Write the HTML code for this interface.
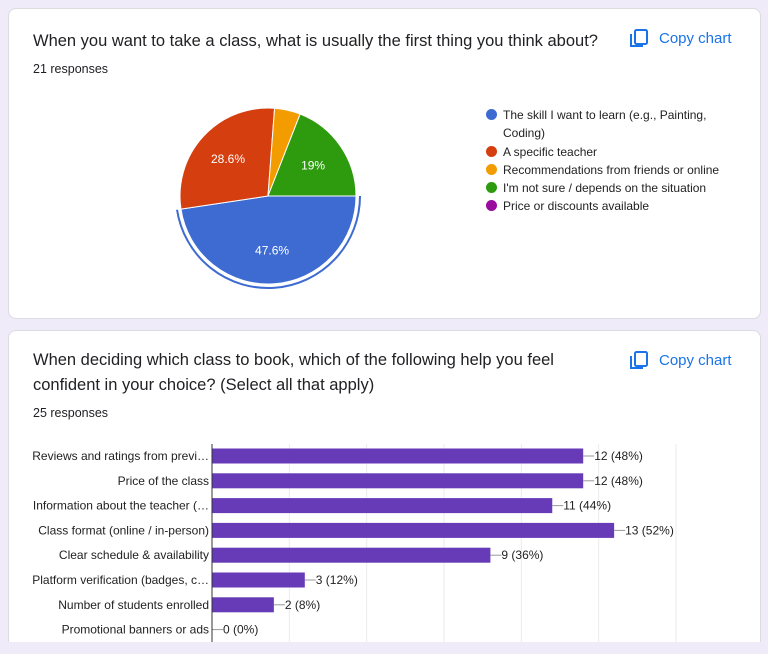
<!DOCTYPE html>
<html style="height:654px;overflow:hidden"><head><meta charset="utf-8"><style>
body{margin:0;width:768px;height:654px;background:#f0ebf8;font-family:"Liberation Sans",Arial,sans-serif;overflow:hidden;position:relative;color:#202124}
.card{position:absolute;left:8px;width:751px;background:#fff;border:1px solid #dadce0;border-radius:8px}
.title{position:absolute;left:24px;font-size:16.5px;line-height:25px;color:#202124}
.resp{position:absolute;left:24px;font-size:12.5px;color:#202124}
.copy{position:absolute;left:620px;font-size:15px;color:#1a73e8;display:flex;align-items:center;gap:10px}
.leg{position:absolute;left:475px;font-size:12px;line-height:18.3px;color:#222}
.leg div{position:relative;padding-left:19px}
.leg span.d{position:absolute;left:2px;top:3px;width:11px;height:11px;border-radius:50%}
</style></head><body>
<div class="card" style="top:8px;height:309px">
 <div class="title" style="top:20px">When you want to take a class, what is usually the first thing you think about?</div>
 <div class="resp" style="top:53px">21 responses</div>
 <div class="copy" style="top:19px"><svg width="20" height="20" viewBox="0 0 20 20"><rect x="6" y="2" width="12" height="14" rx="1.5" fill="none" stroke="#1a73e8" stroke-width="2"/><path d="M2 6v12h12" fill="none" stroke="#1a73e8" stroke-width="2"/></svg>Copy chart</div>
 <div class="leg" style="top:97px">
  <div><span class="d" style="background:#3d6bd1"></span>The skill I want to learn (e.g., Painting,<br>Coding)</div>
  <div><span class="d" style="background:#d53f10"></span>A specific teacher</div>
  <div><span class="d" style="background:#f39c00"></span>Recommendations from friends or online</div>
  <div><span class="d" style="background:#2e9b0f"></span>I'm not sure / depends on the situation</div>
  <div><span class="d" style="background:#980c9e"></span>Price or discounts available</div>
 </div>
</div>
<svg id="pie" width="768" height="330" style="position:absolute;left:0;top:0"></svg>
<div class="card" style="top:330px;height:330px">
 <div class="title" style="top:17px">When deciding which class to book, which of the following help you feel<br>confident in your choice? (Select all that apply)</div>
 <div class="resp" style="top:75px">25 responses</div>
 <div class="copy" style="top:19px"><svg width="20" height="20" viewBox="0 0 20 20"><rect x="6" y="2" width="12" height="14" rx="1.5" fill="none" stroke="#1a73e8" stroke-width="2"/><path d="M2 6v12h12" fill="none" stroke="#1a73e8" stroke-width="2"/></svg>Copy chart</div>
</div>
<svg id="bar" width="768" height="654" style="position:absolute;left:0;top:0"></svg>
<div style="position:absolute;left:0;top:642px;width:768px;height:12px;background:#f0ebf8"></div>
<script>
const pieLabels=["The skill I want to learn","A specific teacher","Recommendations from friends or online","I'm not sure / depends on the situation","Price or discounts available"];
const pieValues=[10,6,1,4,0];
const pieColors=["#3d6bd1","#d53f10","#f39c00","#2e9b0f","#980c9e"];
const NS="http://www.w3.org/2000/svg";
function mk(p,t,a){const e=document.createElementNS(NS,t);for(const k in a)e.setAttribute(k,a[k]);p.appendChild(e);return e;}
(function(){
 const svg=document.getElementById('pie');const cx=268,cy=196,r=88;
 const tot=pieValues.reduce((a,b)=>a+b,0);let a0=0;
 function pt(a,rr){return [cx+rr*Math.cos(a),cy+rr*Math.sin(a)];}
 pieValues.forEach((v,i)=>{if(!v)return;const a1=a0+v/tot*2*Math.PI;
  const p0=pt(a0,r),p1=pt(a1,r),lg=(a1-a0)>Math.PI?1:0;
  const s=mk(svg,'path',{d:`M${cx},${cy}L${p0[0]},${p0[1]}A${r},${r} 0 ${lg} 1 ${p1[0]},${p1[1]}Z`,fill:pieColors[i],stroke:'#fff','stroke-width':1});
  
  
  if(i===0){const q0=pt(a0,r+4),q1=pt(a1,r+4);
   const ring=mk(svg,'path',{d:`M${q0[0]},${q0[1]}A${r+4},${r+4} 0 ${lg} 1 ${q1[0]},${q1[1]}`,fill:'none',stroke:pieColors[0],'stroke-width':2});
   
   }
  const pct=v/tot*100;
  if(pct>8){const m=(a0+a1)/2,l=pt(m,r*0.62);
   const t=mk(svg,'text',{x:l[0],y:l[1]+4,'text-anchor':'middle','font-size':12,fill:'#fff'});
   t.textContent=(Math.round(pct*10)/10)+'%';
   
   }
  a0=a1;});
})();
const barCats=["Reviews and ratings from previ…","Price of the class","Information about the teacher (…","Class format (online / in-person)","Clear schedule & availability","Platform verification (badges, c…","Number of students enrolled","Promotional banners or ads"];
const barValues=[12,12,11,13,9,3,2,0];
const barTotal=25;
const gridTicks=[0,2.5,5,7.5,10,12.5,15];
(function(){
 const svg=document.getElementById('bar');const x0=212,x1=676,xmax=15,top=444,step=24.8,bh=15;
 const X=v=>x0+v/xmax*(x1-x0);
 gridTicks.forEach(t=>{if(!t)return;const g=mk(svg,'line',{x1:X(t),x2:X(t),y1:top,y2:642,stroke:'#ebebeb'});
  });
 barValues.forEach((v,i)=>{const yc=top+12+i*step;
  const lab=mk(svg,'text',{x:x0-3,y:yc+4,'text-anchor':'end','font-size':12,fill:'#222'});lab.textContent=barCats[i];
  
  if(v){const b=mk(svg,'rect',{x:x0,y:yc-bh/2,width:X(v)-x0,height:bh,fill:'#673ab7'});
   }
  mk(svg,'line',{x1:X(v),x2:X(v)+11,y1:yc,y2:yc,stroke:'#999'});
  const vl=mk(svg,'text',{x:X(v)+11,y:yc+4,'font-size':12,fill:'#222'});
  vl.textContent=v+' ('+Math.round(v/barTotal*100)+'%)';
  });
 const ax=mk(svg,'line',{x1:x0,x2:x0,y1:top,y2:642,stroke:'#333'});
 
})();
</script>
</body></html>
